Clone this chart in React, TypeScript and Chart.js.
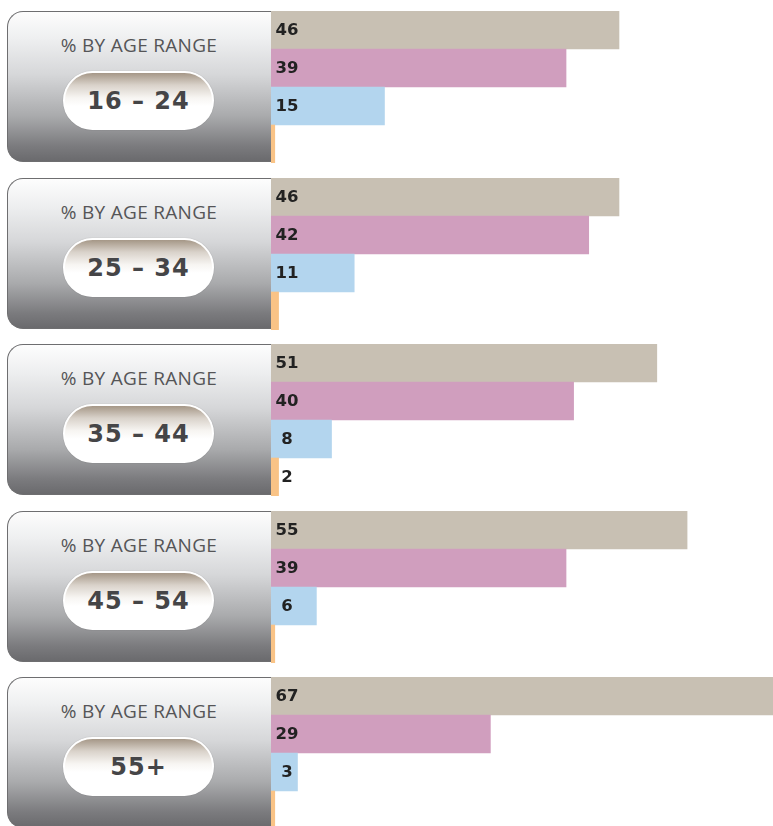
import React, { useEffect, useRef } from "react";
import { Chart, registerables } from "chart.js";

Chart.register(...registerables);

// ---- data ----
const ageRanges = ["16 – 24", "25 – 34", "35 – 44", "45 – 54", "55+"];
const panelTitle = "% BY AGE RANGE";
const seriesNames = ["Series A", "Series B", "Series C", "Series D"];
const beigeValues = [46, 46, 51, 55, 67];
const pinkValues = [39, 42, 40, 39, 29];
const blueValues = [15, 11, 8, 6, 3.5];
const orangeValues = [0.5, 1, 1, 0.5, 0.5];
const beigeLabels = ["46", "46", "51", "55", "67"];
const pinkLabels = ["39", "42", "40", "39", "29"];
const blueLabels = ["15", "11", "8", "6", "3"];
const orangeLabels = ["", "", "2", "", ""];
const xMax = 66.36;

const COLORS = ["#c8c0b3", "#d09ebe", "#b3d5ee", "#f9c386"];

const labelPlugin = {
  id: "valueLabels",
  afterDatasetsDraw(chart: any) {
    const ctx = chart.ctx;
    const labels: string[] = chart.options.plugins.valueLabels.labels;
    const meta = chart.getDatasetMeta(0);
    ctx.save();
    ctx.font = "bold 16.5px 'DejaVu Sans'";
    ctx.fillStyle = "#222222";
    ctx.textAlign = "center";
    ctx.textBaseline = "middle";
    meta.data.forEach((bar: any, i: number) => {
      const t = labels[i];
      if (!t) return;
      ctx.fillText(t, chart.chartArea.left + 16, bar.y + 1);
    });
    ctx.restore();
  },
};

function BarPanel({ index }: { index: number }) {
  const ref = useRef<HTMLCanvasElement | null>(null);
  useEffect(() => {
    if (!ref.current) return;
    const values = [
      beigeValues[index],
      pinkValues[index],
      blueValues[index],
      orangeValues[index],
    ];
    const labels = [
      beigeLabels[index],
      pinkLabels[index],
      blueLabels[index],
      orangeLabels[index],
    ];
    const chart = new Chart(ref.current, {
      type: "bar",
      data: {
        labels: seriesNames,
        datasets: [
          {
            data: values,
            backgroundColor: COLORS,
            borderWidth: 0,
            barPercentage: 1,
            categoryPercentage: 1,
          },
        ],
      },
      options: {
        indexAxis: "y",
        responsive: false,
        animation: false,
        layout: { padding: 0 },
        scales: {
          x: { display: false, min: 0, max: xMax, grid: { display: false } },
          y: { display: false, grid: { display: false } },
        },
        plugins: {
          legend: { display: false },
          tooltip: { enabled: false },
          valueLabels: { labels },
        } as any,
      },
      plugins: [labelPlugin],
    });
    return () => chart.destroy();
  }, [index]);
  return <canvas ref={ref} width={502} height={152} style={{ display: "block" }} />;
}

function LabelBox({ text }: { text: string }) {
  return (
    <div
      style={{
        position: "absolute",
        left: 7,
        top: 0,
        width: 264,
        height: 151,
        boxSizing: "border-box",
        border: "1.5px solid #6e6e70",
        borderRight: "none",
        borderRadius: "16px 0 0 16px",
        background:
          "linear-gradient(to bottom, #fdfdfd 0%, #eeeff0 18%, #d6d7d9 42%, #a9aaac 70%, #7b7b7e 90%, #6a6a6d 100%)",
      }}
    >
      <div
        style={{
          position: "absolute",
          left: 0,
          width: 262,
          top: 21,
          textAlign: "center",
          fontFamily: "'Open Sans', sans-serif",
          fontSize: 19,
          letterSpacing: 0.3,
          color: "#555557",
          lineHeight: "24px",
          whiteSpace: "nowrap",
        }}
      >
        {panelTitle}
      </div>
      <div
        style={{
          position: "absolute",
          left: 55,
          top: 59,
          width: 151,
          height: 59,
          boxSizing: "border-box",
          border: "2px solid #ffffff",
          borderRadius: 30,
          background:
            "linear-gradient(to bottom, #a59787 0%, #d9d2ca 22%, #f7f5f2 45%, #ffffff 60%, #ffffff 100%)",
          boxShadow: "0 0 1px rgba(0,0,0,0.3)",
          display: "flex",
          alignItems: "center",
          justifyContent: "center",
          paddingTop: 1,
          fontFamily: "'DejaVu Sans', sans-serif",
          fontWeight: "bold",
          fontSize: 24,
          letterSpacing: 1,
          color: "#454547",
          whiteSpace: "nowrap",
        }}
      >
        {text}
      </div>
    </div>
  );
}

export default function App() {
  return (
    <div
      style={{
        position: "absolute",
        left: 0,
        top: 0,
        width: 773,
        height: 826,
        overflow: "hidden",
        background: "#ffffff",
      }}
    >
      {ageRanges.map((r, i) => {
        const top = Math.round(11 + i * 166.5);
        return (
          <div key={r} style={{ position: "absolute", left: 0, top, width: 773, height: 152 }}>
            <LabelBox text={r} />
            <div style={{ position: "absolute", left: 271, top: 0 }}>
              <BarPanel index={i} />
            </div>
          </div>
        );
      })}
    </div>
  );
}
